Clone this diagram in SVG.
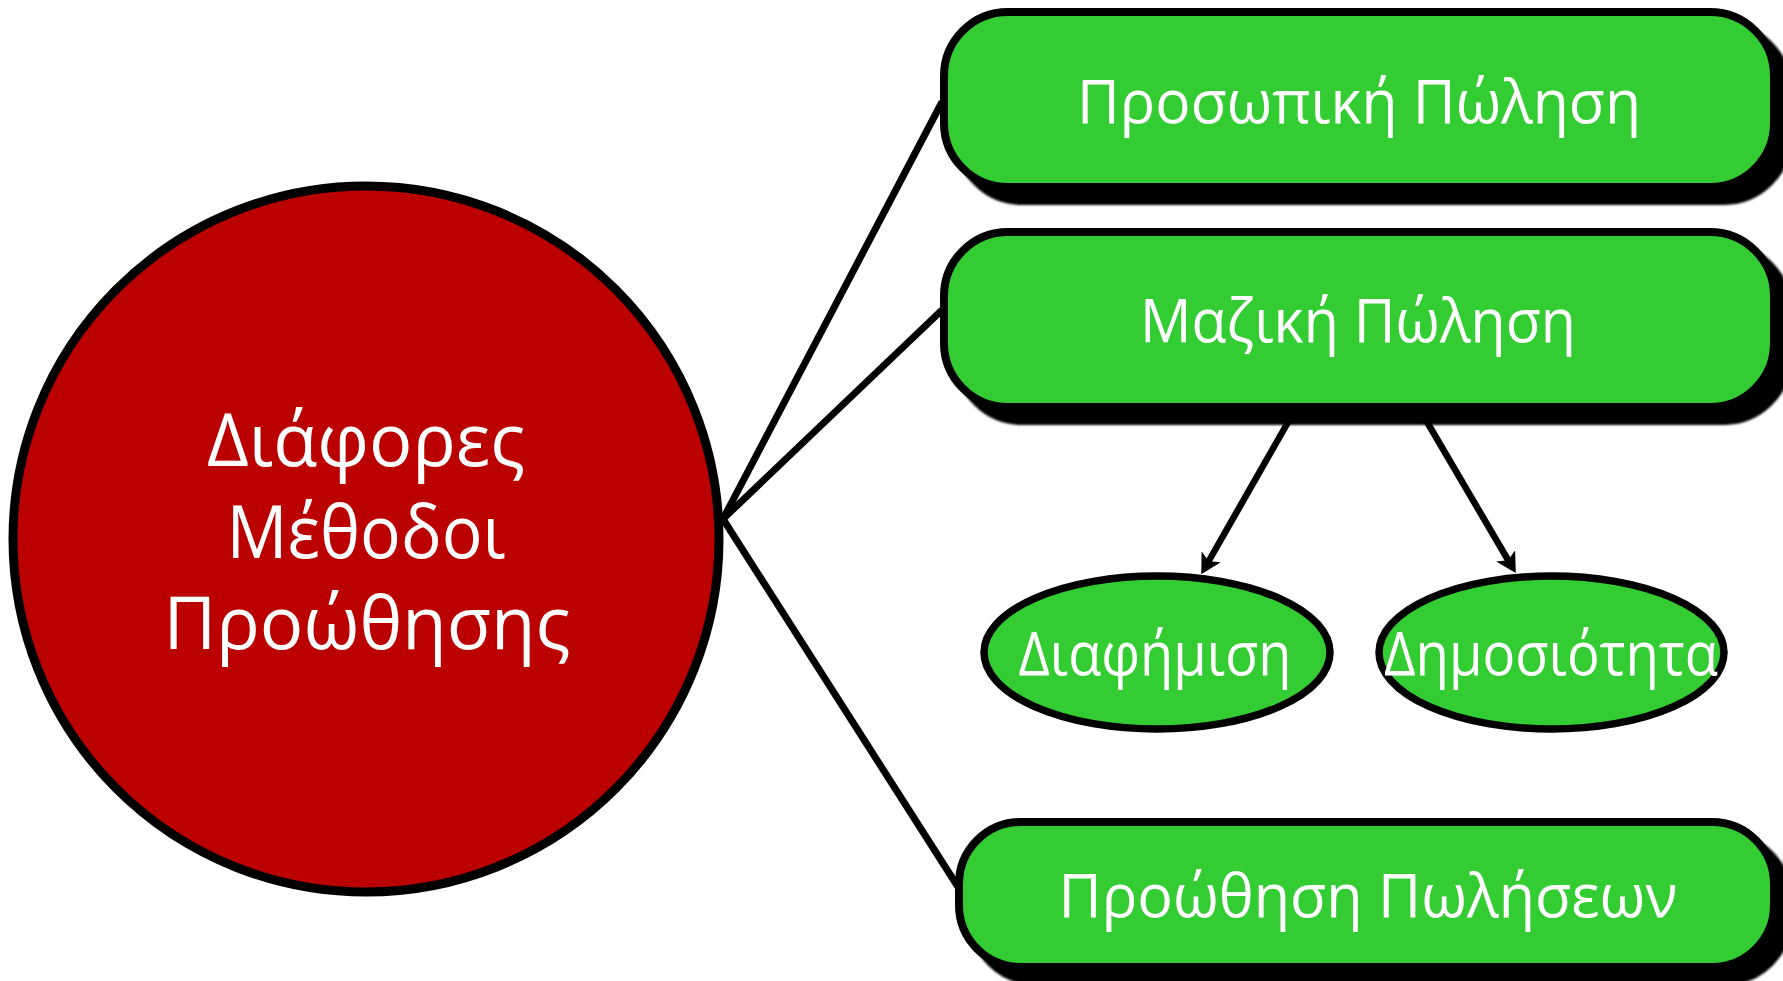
<svg xmlns="http://www.w3.org/2000/svg" width="1783" height="981" viewBox="0 0 1783 981">
  <style>
    .label { font-family: "Open Sans", "Noto Sans", "DejaVu Sans", sans-serif; fill: #ffffff; text-anchor: middle; }
    .big { font-size: 74px; }
    .small { font-size: 61px; }
    .box { fill: #33cc33; stroke: #000000; stroke-width: 8; }
    .shadow { fill: #000000; stroke: #000000; stroke-width: 8; filter: url(#soft); }
    .oval { fill: #33cc33; stroke: #000000; stroke-width: 7.5; }
    .edge { fill: none; stroke: #000000; stroke-width: 7; }
    .arrow { fill: none; stroke: #000000; stroke-width: 6.5; marker-end: url(#head); }
  </style>
  <defs>
    <filter id="soft" x="-5%" y="-10%" width="110%" height="120%">
      <feGaussianBlur stdDeviation="1"/>
    </filter>
    <marker id="head" markerUnits="userSpaceOnUse" viewBox="0 0 20 22" refX="10" refY="11" markerWidth="20" markerHeight="22" orient="auto">
      <path d="M0,0 L20,11 L0,22 L5,11 z" fill="#000000"/>
    </marker>
  </defs>

  <!-- connectors -->
  <g id="connectors">
    <line class="edge" x1="723" y1="519" x2="942" y2="102"/>
    <line class="edge" x1="723" y1="519" x2="942" y2="310"/>
    <line class="edge" x1="723" y1="519" x2="960" y2="890"/>
    <line class="arrow" x1="1295" y1="410" x2="1206.2" y2="565.5"/>
    <line class="arrow" x1="1420" y1="410" x2="1510.7" y2="564.5"/>
  </g>

  <!-- central node -->
  <g id="node-center">
    <circle cx="366" cy="539" r="353" fill="#bb0000" stroke="#000000" stroke-width="9"/>
    <text class="label big" x="366" y="466" textLength="318" lengthAdjust="spacingAndGlyphs">Διάφορες</text>
    <text class="label big" x="366" y="558" textLength="279" lengthAdjust="spacingAndGlyphs">Μέθοδοι</text>
    <text class="label big" x="367" y="649" textLength="407" lengthAdjust="spacingAndGlyphs">Προώθησης</text>
  </g>

  <!-- personal selling -->
  <g id="node-personal">
    <rect class="shadow" x="958" y="26" width="830" height="175" rx="64" ry="64"/>
    <rect class="box" x="944" y="12" width="830" height="175" rx="64" ry="64"/>
    <text class="label small" x="1359" y="123" textLength="564" lengthAdjust="spacingAndGlyphs">Προσωπική Πώληση</text>
  </g>

  <!-- mass selling -->
  <g id="node-mass">
    <rect class="shadow" x="958" y="246" width="830" height="175" rx="64" ry="64"/>
    <rect class="box" x="944" y="232" width="830" height="175" rx="64" ry="64"/>
    <text class="label small" x="1358" y="342" textLength="436" lengthAdjust="spacingAndGlyphs">Μαζική Πώληση</text>
  </g>

  <!-- advertising -->
  <g id="node-advertising">
    <ellipse class="oval" cx="1157" cy="652.5" rx="173" ry="76.5"/>
    <text class="label small" x="1155" y="675" textLength="273" lengthAdjust="spacingAndGlyphs">Διαφήμιση</text>
  </g>

  <!-- publicity -->
  <g id="node-publicity">
    <ellipse class="oval" cx="1551.5" cy="652.5" rx="172.5" ry="76.5"/>
    <text class="label small" x="1551" y="675" textLength="334" lengthAdjust="spacingAndGlyphs">Δημοσιότητα</text>
  </g>

  <!-- sales promotion -->
  <g id="node-promotion">
    <rect class="shadow" x="973" y="836" width="815" height="145" rx="62" ry="62"/>
    <rect class="box" x="959" y="822" width="815" height="145" rx="62" ry="62"/>
    <text class="label small" x="1368" y="917" textLength="619" lengthAdjust="spacingAndGlyphs">Προώθηση Πωλήσεων</text>
  </g>
</svg>
